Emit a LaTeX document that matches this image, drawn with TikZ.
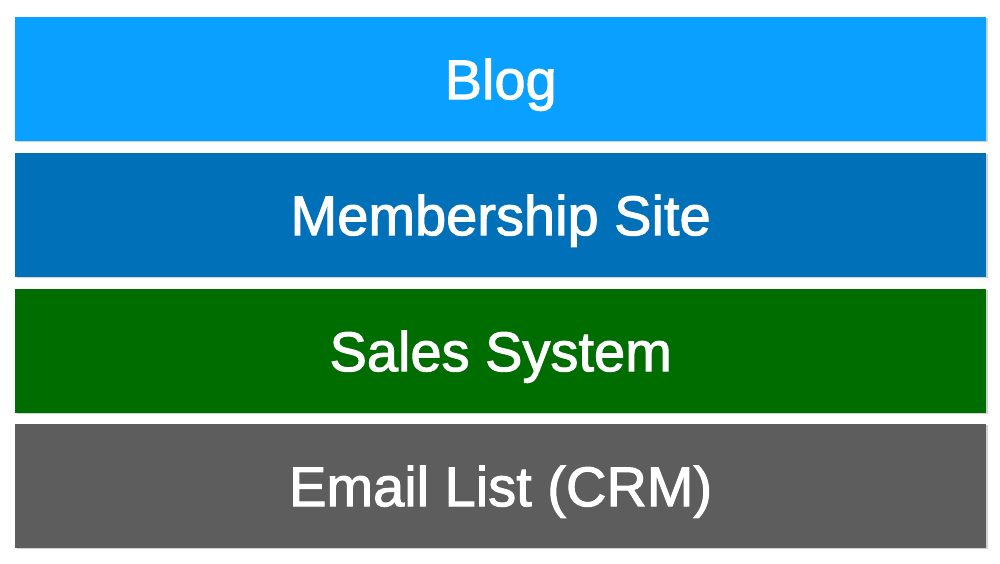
\documentclass[tikz,border=0pt]{standalone}
\usepackage{fontspec}
\setmainfont{Liberation Sans}
\newfontfamily\lblfont{Liberation Sans}[FakeBold=1.8]
\definecolor{blogc}{HTML}{0AA0FF}
\definecolor{memc}{HTML}{0071B9}
\definecolor{salesc}{HTML}{006D00}
\definecolor{emailc}{HTML}{5D5D5D}
\tikzset{
  layer/.style={rectangle, inner sep=0pt, minimum width=971pt, minimum height=124pt,
    text=white, font=\lblfont\fontsize{56}{60}\selectfont, text height=40pt, text depth=0pt,
    draw=none, anchor=north west},
  shadowbox/.style={fill=black!18}
}
\begin{document}
\begin{tikzpicture}[x=1pt,y=1pt]
\useasboundingbox[fill=white] (0,0) rectangle (1000,564);
% soft shadows
\foreach \t in {547,411,275,140}{
  \fill[shadowbox] (16.5,\t-125.5) rectangle (987.5,\t-1.5);
}
\node[layer, fill=blogc] (blog) at (15,547) {Blog};
\node[layer, fill=memc] (member) at (15,411) {Membership Site};
\node[layer, fill=salesc] (sales) at (15,275) {Sales System};
\node[layer, fill=emailc] (email) at (15,140) {Email List (CRM)};
\end{tikzpicture}
\end{document}
